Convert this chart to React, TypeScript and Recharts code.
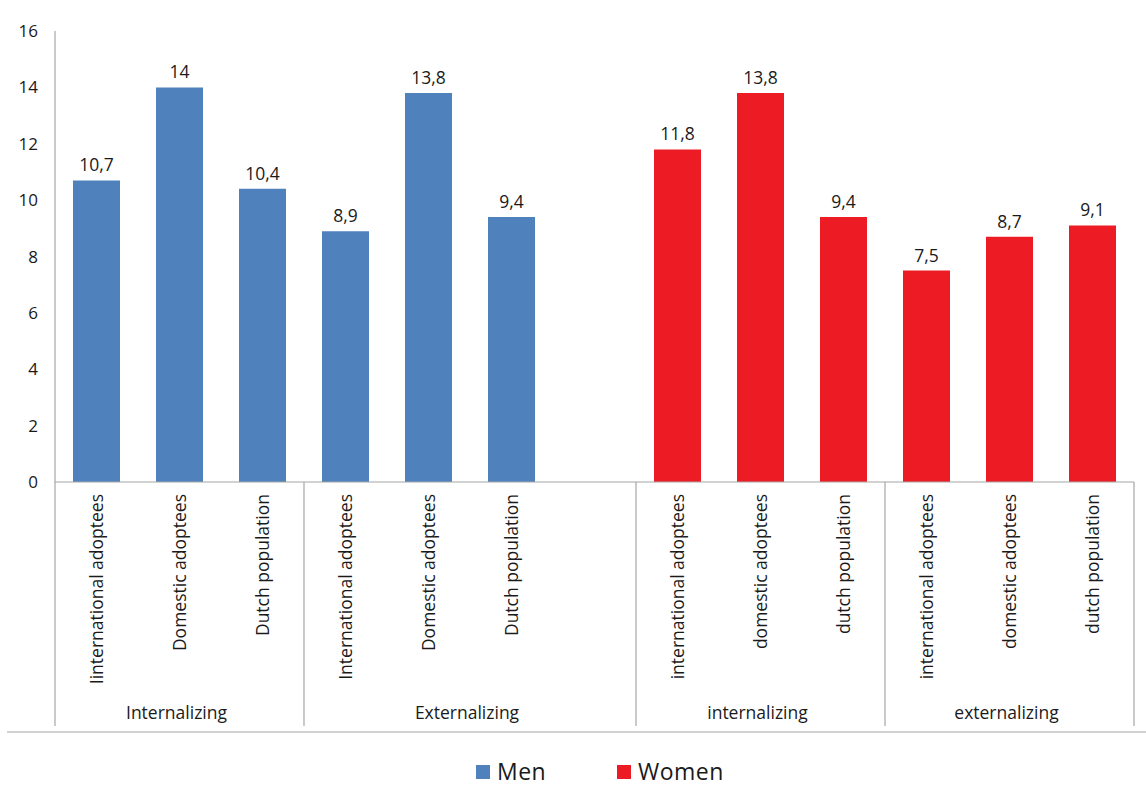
import { Bar, BarChart, Cell, LabelList, Legend, XAxis, YAxis } from "recharts";

// 13 slots: 6 men bars, one empty slot, 6 women bars
const categories = [
  "Iinternational adoptees",
  "Domestic adoptees",
  "Dutch population",
  "International adoptees",
  "Domestic adoptees",
  "Dutch population",
  "",
  "international adoptees",
  "domestic adoptees",
  "dutch population",
  "international adoptees",
  "domestic adoptees",
  "dutch population",
];
const values: (number | null)[] = [10.7, 14, 10.4, 8.9, 13.8, 9.4, null, 11.8, 13.8, 9.4, 7.5, 8.7, 9.1];
const sex = ["Men", "Men", "Men", "Men", "Men", "Men", "", "Women", "Women", "Women", "Women", "Women", "Women"];
const groups = [
  { label: "Internalizing", start: 0, size: 3 },
  { label: "Externalizing", start: 3, size: 4 },
  { label: "internalizing", start: 7, size: 3 },
  { label: "externalizing", start: 10, size: 3 },
];
const yTicks = [0, 2, 4, 6, 8, 10, 12, 14, 16];

const COLORS: Record<string, string> = { Men: "#4F81BD", Women: "#ED1C24" };
const FONT = "'Open Sans', Lato, sans-serif";
const W = 1146;
const H = 785;
const MARGIN = { top: 31, right: 12, left: 0, bottom: 0 };
const Y_W = 55;
const BAND = (W - MARGIN.right - MARGIN.left - Y_W) / categories.length;
const AXIS_GRAY = "#a6a6a6";
const TEXT = "#1a1a1a";

const data = categories.map((name, i) => ({ key: `c${i}`, name, value: values[i], sex: sex[i] }));

function Tick(props: any) {
  const { x, y, index } = props;
  const label = categories[index];
  const left = x - BAND / 2;
  const group = groups.find((g) => g.start === index);
  return (
    <g>
      {label && (
        <text
          x={0}
          y={0}
          transform={`translate(${x + 6},${y + 12}) rotate(-90)`}
          textAnchor="end"
          fontSize={17.5}
          fontFamily={FONT}
          fill={TEXT}
        >
          {label}
        </text>
      )}
      {group && (
        <>
          <line x1={left} x2={left} y1={y} y2={y + 244} stroke={AXIS_GRAY} strokeWidth={1.2} />
          <text
            x={left + (group.size * BAND) / 2 - 3}
            y={y + 237}
            textAnchor="middle"
            fontSize={17.5}
            fontFamily={FONT}
            fill={TEXT}
          >
            {group.label}
          </text>
        </>
      )}
      {index === categories.length - 1 && (
        <line x1={x + BAND / 2} x2={x + BAND / 2} y1={y} y2={y + 244} stroke={AXIS_GRAY} strokeWidth={1.2} />
      )}
      {index === 0 && <line x1={7} x2={W} y1={y + 250} y2={y + 250} stroke={AXIS_GRAY} strokeWidth={1.2} />}
    </g>
  );
}

function LegendContent() {
  const items = [
    { name: "Men", left: 476 },
    { name: "Women", left: 617 },
  ];
  return (
    <div style={{ position: "relative", height: 53 }}>
      {items.map((it) => (
        <div
          key={it.name}
          style={{
            position: "absolute",
            left: it.left,
            top: 27,
            display: "flex",
            alignItems: "center",
            gap: 7,
            fontFamily: FONT,
            fontSize: 23,
            lineHeight: "25px",
            letterSpacing: 0.5,
            color: TEXT,
          }}
        >
          <span style={{ width: 14, height: 14, background: COLORS[it.name], display: "inline-block" }} />
          <span>{it.name}</span>
        </div>
      ))}
    </div>
  );
}

export default function App() {
  return (
    <div style={{ position: "absolute", left: 0, top: 0, width: W, height: H, background: "#fff" }}>
      <BarChart width={W} height={H} data={data} margin={MARGIN} barSize={47}>
        <XAxis
          dataKey="key"
          interval={0}
          height={250}
          tickLine={false}
          tickSize={0}
          tickMargin={0}
          axisLine={{ stroke: AXIS_GRAY, strokeWidth: 1.2 }}
          tick={<Tick />}
        />
        <YAxis
          width={Y_W}
          domain={[0, 16]}
          ticks={yTicks}
          tickLine={false}
          tickSize={0}
          tickMargin={17}
          axisLine={{ stroke: AXIS_GRAY, strokeWidth: 1.2 }}
          tick={{ fontSize: 17, fontFamily: FONT, fill: TEXT }}
        />
        <Legend verticalAlign="bottom" height={53} content={<LegendContent />} />
        <Bar dataKey="value" isAnimationActive={false}>
          {data.map((d) => (
            <Cell key={d.key} fill={COLORS[d.sex] || "transparent"} />
          ))}
          <LabelList
            dataKey="value"
            position="top"
            offset={9}
            formatter={(v: any) => (v == null ? "" : String(v).replace(".", ","))}
            style={{ fontSize: 17.5, fontFamily: FONT, fill: TEXT }}
          />
        </Bar>
      </BarChart>
    </div>
  );
}
